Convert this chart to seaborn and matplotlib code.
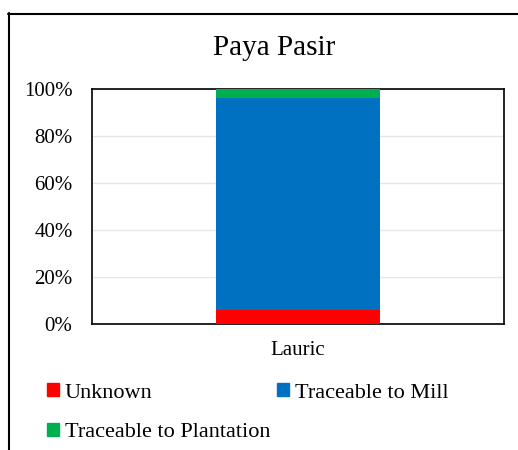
import matplotlib
matplotlib.use("Agg")
import matplotlib.pyplot as plt
from matplotlib.lines import Line2D
from matplotlib.patches import Patch
from matplotlib.ticker import PercentFormatter
import pandas as pd
import seaborn as sns

# values (percent of total)
categories = ["Lauric"]
unknown = [6.0]
traceable_mill = [90.2]
traceable_plantation = [3.8]

series_names = ["Unknown", "Traceable to Mill", "Traceable to Plantation"]
series_colors = ["#FF0000", "#0070C0", "#00B050"]

sns.set_theme(style="white")
plt.rcParams["font.family"] = ["Liberation Serif", "DejaVu Serif"]
plt.rcParams["text.color"] = "black"
plt.rcParams["xtick.color"] = "black"
plt.rcParams["ytick.color"] = "black"

df = pd.DataFrame({
    "category": categories,
    "Unknown": unknown,
    "Traceable to Mill": traceable_mill,
    "Traceable to Plantation": traceable_plantation,
})
# cumulative tops so the bars can be layered into a stack
df["top_unknown"] = df["Unknown"]
df["top_mill"] = df["top_unknown"] + df["Traceable to Mill"]
df["top_plant"] = df["top_mill"] + df["Traceable to Plantation"]

fig = plt.figure(figsize=(5.18, 4.5), dpi=100)
ax = fig.add_axes([92 / 518, 1 - 324 / 450, 412 / 518, 235 / 450])

for col, color in zip(["top_plant", "top_mill", "top_unknown"], series_colors[::-1]):
    sns.barplot(data=df, x="category", y=col, color=color, width=0.4,
                saturation=1, ax=ax, zorder=3, linewidth=0)

ax.set_ylim(0, 100)
ax.set_xlim(-0.5, 0.5)
ax.yaxis.set_major_formatter(PercentFormatter(decimals=0))
ax.set_yticks([0, 20, 40, 60, 80, 100])
ax.grid(axis="y", color="#e6e6e6", linewidth=1, zorder=0)
ax.set_xlabel("")
ax.set_ylabel("")
ax.tick_params(axis="y", length=0, pad=14, labelsize=15)
ax.tick_params(axis="x", length=0, pad=12, labelsize=15)
for s in ax.spines.values():
    s.set_visible(True)
    s.set_color("black")
    s.set_linewidth(1.2)

fig.text(274 / 518, 1 - 48 / 450, "Paya Pasir", ha="center", va="center", fontsize=21)

handles = [Patch(color=c) for c in series_colors]
order = [0, 2, 1]
fig.legend([handles[i] for i in order], [series_names[i] for i in order],
           ncol=2, loc="upper left", bbox_to_anchor=(47 / 518, 1 - 383 / 450),
           frameon=False, fontsize=16, handlelength=0.55, handleheight=0.55,
           handletextpad=0.25, columnspacing=0.3, labelspacing=0.9,
           borderpad=0, borderaxespad=0)

# outer chart border (cropped at right and bottom)
fig.add_artist(Line2D([8.5 / 518, 8.5 / 518], [0, 1 - 13 / 450], color="black", lw=1.5))
fig.add_artist(Line2D([8 / 518, 1], [1 - 13.5 / 450, 1 - 13.5 / 450], color="black", lw=1.5))

fig.savefig("out.png", dpi=100)
